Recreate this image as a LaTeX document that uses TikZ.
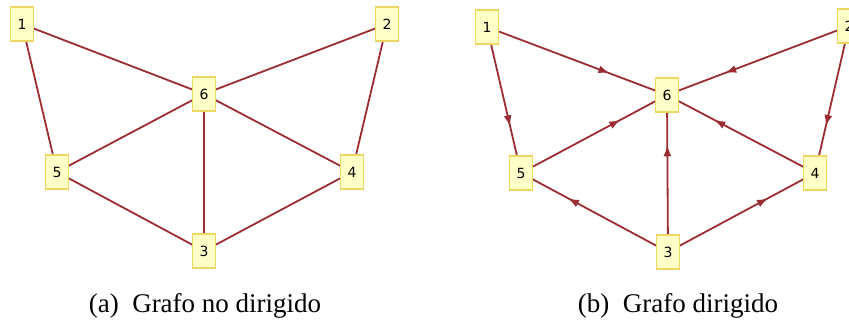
\documentclass[tikz,border=0pt]{standalone}
\usepackage{fontspec}
\setmainfont{Liberation Serif}
\newfontfamily\nodefont{DejaVu Sans}
\usetikzlibrary{arrows.meta,decorations.markings}
\definecolor{edgecol}{RGB}{155,45,50}
\definecolor{boxfill}{RGB}{255,255,200}
\definecolor{boxline}{RGB}{240,215,100}
\tikzset{
  vbox/.style={draw=boxline, fill=boxfill, line width=1.3pt, minimum width=23pt, minimum height=34pt, inner sep=0pt, font=\nodefont\fontsize{14}{14}\selectfont},
  uedge/.style={draw=edgecol, line width=1.8pt},
  dedge/.style={draw=edgecol, line width=1.8pt, postaction={decorate}, decoration={markings, mark=at position 0.68 with {\arrow{Latex[length=11pt,width=8pt]}}}},
  captext/.style={font=\fontsize{27}{30}\selectfont, inner sep=0pt}
}
\begin{document}
\begin{tikzpicture}[x=1pt,y=-1pt]
\useasboundingbox (0,0) rectangle (849,324);
\clip (0,0) rectangle (849,324);
% left graph coordinates
\coordinate (a1) at (22,24);
\coordinate (a2) at (387,24);
\coordinate (a6) at (204,94);
\coordinate (a5) at (57,172);
\coordinate (a4) at (352,172);
\coordinate (a3) at (204,251);
% right graph coordinates
\coordinate (b1) at (487,27);
\coordinate (b2) at (849,26);
\coordinate (b6) at (667,95);
\coordinate (b5) at (521,173);
\coordinate (b4) at (815,173);
\coordinate (b3) at (668,252);
% undirected edges
\draw[uedge] (a1) -- (a6);
\draw[uedge] (a1) -- (a5);
\draw[uedge] (a2) -- (a6);
\draw[uedge] (a2) -- (a4);
\draw[uedge] (a6) -- (a5);
\draw[uedge] (a6) -- (a4);
\draw[uedge] (a6) -- (a3);
\draw[uedge] (a5) -- (a3);
\draw[uedge] (a4) -- (a3);
% directed edges
\draw[dedge] (b1) -- (b6);
\draw[dedge] (b1) -- (b5);
\draw[dedge] (b2) -- (b6);
\draw[dedge] (b2) -- (b4);
\draw[dedge] (b5) -- (b6);
\draw[dedge] (b4) -- (b6);
\draw[dedge] (b3) -- (b6);
\draw[dedge] (b3) -- (b5);
\draw[dedge] (b3) -- (b4);
% nodes
\foreach \k in {1,...,6} {
  \node[vbox] (na\k) at (a\k) {\k};
  \node[vbox] (nb\k) at (b\k) {\k};
}
% captions
\node[captext] (capa) at (205,306) {(a)\enspace Grafo no dirigido};
\node[captext] (capb) at (678,306) {(b)\enspace Grafo dirigido};
\end{tikzpicture}
\end{document}
